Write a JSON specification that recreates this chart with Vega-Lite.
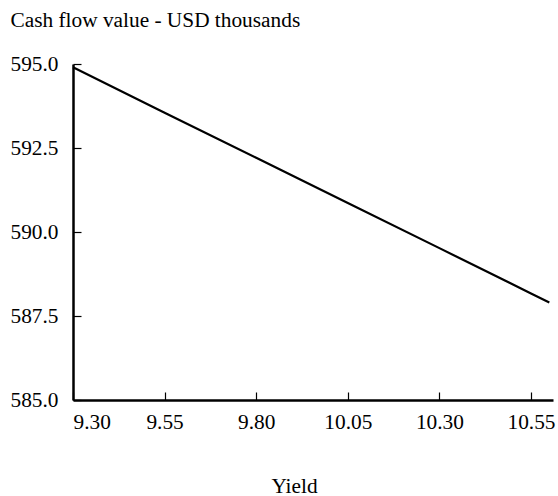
{
  "$schema": "https://vega.github.io/schema/vega-lite/v6.json",
  "width": 480,
  "height": 336,
  "autosize": {"type": "none"},
  "padding": {"left": 73, "top": 64, "right": 5, "bottom": 96},
  "background": "white",
  "config": {
    "view": {"stroke": null},
    "font": "Liberation Serif",
    "axis": {
      "grid": false,
      "domainColor": "black",
      "domainWidth": 2.5,
      "tickColor": "black",
      "tickWidth": 1.2,
      "tickSize": -8,
      "labelColor": "black",
      "labelFont": "Liberation Serif",
      "labelFontSize": 21.33,
      "titleFont": "Liberation Serif",
      "titleFontSize": 21.33,
      "titleFontWeight": "normal",
      "titleColor": "black"
    }
  },
  "data": {
    "values": [
      {"yield": 9.30, "value": 594.90},
      {"yield": 9.55, "value": 593.55},
      {"yield": 9.80, "value": 592.21},
      {"yield": 10.05, "value": 590.86},
      {"yield": 10.30, "value": 589.52},
      {"yield": 10.55, "value": 588.17},
      {"yield": 10.60, "value": 587.90}
    ]
  },
  "mark": {"type": "line", "color": "black", "strokeWidth": 2.2},
  "encoding": {
    "x": {
      "field": "yield",
      "type": "quantitative",
      "scale": {"domain": [9.3, 10.61], "nice": false, "zero": false},
      "axis": {
        "values": [9.30, 9.55, 9.80, 10.05, 10.30, 10.55],
        "format": ".2f",
        "labelPadding": 19,
        "labelBaseline": "top",
        "title": "Yield",
        "titleX": 221,
        "titleY": 92,
        "titleAlign": "center",
        "titleBaseline": "alphabetic"
      }
    },
    "y": {
      "field": "value",
      "type": "quantitative",
      "scale": {"domain": [585, 595], "nice": false, "zero": false},
      "axis": {
        "values": [585, 587.5, 590, 592.5, 595],
        "format": ".1f",
        "labelPadding": 23,
        "title": "Cash flow value - USD thousands",
        "titleAngle": 0,
        "titleX": -63,
        "titleY": -38,
        "titleAlign": "left",
        "titleBaseline": "alphabetic"
      }
    }
  }
}
